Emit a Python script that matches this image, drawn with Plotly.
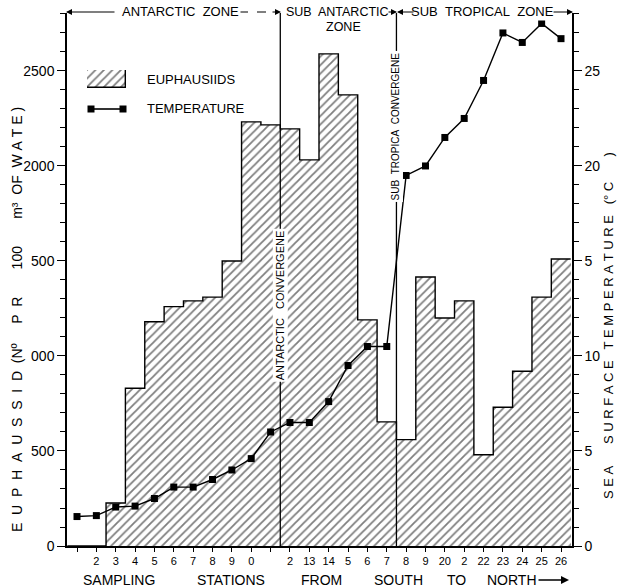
import plotly.graph_objects as go

# ---------------- data ----------------
stations = list(range(1, 27))
station_labels = ["", "2", "3", "4", "5", "6", "7", "8", "9", "0", "", "2", "13",
                  "14", "5", "6", "7", "8", "9", "20", "2", "22", "23", "24", "25", "26"]
euphausiids = [0, 0, 226, 830, 1180, 1260, 1290, 1310, 1500, 2232, 2216, 2195, 2032,
               2590, 2374, 1190, 653, 560, 1416, 1200, 1290, 480, 730, 920, 1310, 1510]
temperature = [1.55, 1.6, 2.05, 2.1, 2.5, 3.1, 3.1, 3.5, 4.0, 4.6, 6.0, 6.5, 6.5,
               7.6, 9.5, 10.5, 10.5, 19.5, 20.0, 21.5, 22.5, 24.5, 27.0, 26.5, 27.5, 26.7]
left_ticks = [0, 500, 1000, 1500, 2000, 2500]
left_tick_text = ["0", "500", "000", "500", "2000", "2500"]
right_ticks = [0, 5, 10, 15, 20, 25]
right_tick_text = ["0", "5", "10", "5", "20", "25"]
convergence_after = [11, 17]   # convergences lie between these stations and the next

# ---------------- geometry ----------------
W, H = 618, 587
L, R, T, B = 67, 46, 13, 41
PW, PH = W - L - R, H - T - B
FONT = "Liberation Sans, Arial, Helvetica, sans-serif"
NB = "\u00a0"


def px2x(px):
    return (px - L) / PW


def px2y(py):
    return (H - B - py) / PH


def spaced(s):
    return s.replace(" ", NB)


hatch = dict(shape="/", fgcolor="black", bgcolor="white", size=6, solidity=0.3)

edges = [s - 0.5 for s in stations] + [stations[-1] + 0.5]
outline_y = euphausiids + [euphausiids[-1]]

fig = go.Figure()
fig.add_trace(go.Bar(x=stations, y=euphausiids, width=1,
                     marker=dict(color="white", line=dict(width=0), pattern=hatch),
                     showlegend=False, hoverinfo="skip"))
fig.add_trace(go.Scatter(x=edges, y=outline_y, mode="lines",
                         line=dict(shape="hv", color="black", width=1.4),
                         showlegend=False, hoverinfo="skip"))
fig.add_trace(go.Scatter(x=stations, y=temperature, yaxis="y2", mode="lines+markers",
                         line=dict(color="black", width=1.4),
                         marker=dict(symbol="square", size=7, color="black"),
                         showlegend=False))

# legend sample (hatched box) drawn on its own small axes
fig.add_trace(go.Bar(x=[0], y=[1], width=1, xaxis="x3", yaxis="y3",
                     marker=dict(color="white", line=dict(width=1.4, color="black"), pattern=hatch),
                     showlegend=False, hoverinfo="skip"))

axis_common = dict(showgrid=False, zeroline=False, showline=True, linecolor="black",
                   linewidth=1.5, tickcolor="black", ticks="outside", mirror=False)

fig.update_layout(
    width=W, height=H,
    margin=dict(l=L, r=R, t=T, b=B, pad=0),
    paper_bgcolor="white", plot_bgcolor="white",
    font=dict(family=FONT, color="black", size=13),
    bargap=0,
    xaxis=dict(axis_common, range=[1 - 10 / 19.36, 26 + 11 / 19.36],
               tickmode="array", tickvals=stations, ticktext=station_labels,
               ticklen=4, tickwidth=1.2, tickfont=dict(size=11)),
    yaxis=dict(axis_common, range=[0, 2805], tickmode="array", tickvals=left_ticks,
               ticktext=left_tick_text, ticklen=8, tickwidth=1.3, tickfont=dict(size=14),
               minor=dict(tickmode="linear", tick0=0, dtick=100, ticks="outside",
                          ticklen=5, tickcolor="black", tickwidth=1.2, showgrid=False)),
    yaxis2=dict(axis_common, overlaying="y", side="right", range=[0, 28.05],
                tickmode="array", tickvals=right_ticks, ticktext=right_tick_text,
                ticklen=8, tickwidth=1.3, tickfont=dict(size=14),
                minor=dict(tickmode="linear", tick0=0, dtick=1, ticks="outside",
                           ticklen=5, tickcolor="black", tickwidth=1.2, showgrid=False)),
    xaxis3=dict(domain=[px2x(87), px2x(126)], anchor="y3", range=[-0.5, 0.5],
                visible=False, fixedrange=True),
    yaxis3=dict(domain=[px2y(88), px2y(70)], anchor="x3", range=[0, 1],
                visible=False, fixedrange=True),
)

shapes = []
annotations = []


def note(text, x, y, size=13, angle=0, xanchor="center", xref="paper", **kw):
    d = dict(text=text, xref=xref, yref="paper", x=x, y=y, xanchor=xanchor,
             yanchor="middle", showarrow=False, font=dict(size=size), textangle=angle)
    d.update(kw)
    annotations.append(d)


# convergence lines
for s in convergence_after:
    shapes.append(dict(type="line", xref="x", yref="paper", x0=s + 0.5, x1=s + 0.5,
                       y0=0, y1=px2y(13), line=dict(color="black", width=1.3), layer="above"))

note(spaced("ANTARCTIC   CONVERGENE"), convergence_after[0] + 0.5, px2y(305), size=11,
     angle=-90, xref="x", bgcolor="white", borderpad=1)
note(spaced("SUB  TROPICA  CONVERGENE"), convergence_after[1] + 0.5, px2y(126), size=10,
     angle=-90, xref="x", bgcolor="white", borderpad=1)

# header zones
hy = px2y(12)
note(spaced("ANTARCTIC  ZONE"), px2x(180), hy, bgcolor="white")
note("SUB" + NB + " ANTARCTIC", px2x(337), hy, size=12.5, borderpad=0)
note("ZONE", px2x(343), px2y(27), size=12.5, borderpad=0)
note(spaced("SUB  TROPICAL  ZONE"), px2x(482), hy, bgcolor="white")
arrows = [(66, 50), (281, -10), (397, -10), (397, 18), (573, -21)]
for head, off in arrows:
    annotations.append(dict(text="", xref="paper", yref="paper", x=px2x(head), y=hy,
                            ax=off, ay=0, showarrow=True, arrowhead=2, arrowsize=1,
                            arrowwidth=1.2, arrowcolor="black"))
shapes.append(dict(type="line", xref="paper", yref="paper", x0=px2x(239), x1=px2x(276),
                   y0=hy, y1=hy, line=dict(color="black", width=1.2, dash="dash")))

# legend
note("EUPHAUSIIDS", px2x(145), px2y(79), xanchor="left")
note("TEMPERATURE", px2x(145), px2y(109), xanchor="left")
shapes.append(dict(type="line", xref="paper", yref="paper", x0=px2x(91), x1=px2x(123),
                   y0=px2y(109), y1=px2y(109), line=dict(color="black", width=1.6)))
for cx in (91, 123):
    shapes.append(dict(type="rect", xref="paper", yref="paper", x0=px2x(cx - 3.5), x1=px2x(cx + 3.5),
                       y0=px2y(112.5), y1=px2y(105.5), fillcolor="black", line=dict(width=0)))

# axis titles
left_title = spaced("E  U  P  H  A  U  S  S  I  D  (N\u00ba     P  R       100       m\u00b3  OF  W A T E )")
note(left_title, px2x(17), px2y(320), size=14, angle=-90)
right_title = spaced("S E A      S U R F A C E   T E M P E R A T U R E   (\u00b0 C       )")
note(right_title, px2x(608), px2y(326), angle=-90)

by = px2y(580)
for word, cx in [("SAMPLING", 119), ("STATIONS", 231), ("FROM", 321), ("SOUTH", 398),
                 ("TO", 456), ("NORTH", 512)]:
    note(word, px2x(cx), by, size=14)
annotations.append(dict(text="", xref="paper", yref="paper", x=px2x(569), y=by,
                        ax=-32, ay=0, showarrow=True, arrowhead=2, arrowsize=1,
                        arrowwidth=1.6, arrowcolor="black"))

fig.update_layout(shapes=shapes, annotations=annotations)
fig.write_html("out.html")
